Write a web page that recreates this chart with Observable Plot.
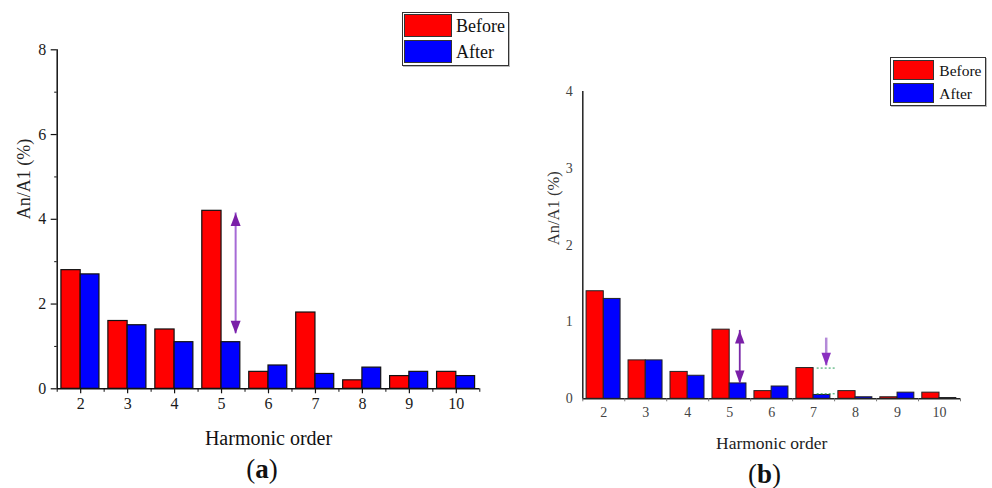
<!DOCTYPE html>
<html>
<head>
<meta charset="utf-8">
<script src="https://cdn.jsdelivr.net/npm/d3@7"></script>
<script src="https://cdn.jsdelivr.net/npm/@observablehq/plot@0.6"></script>
<style>
  html, body { margin: 0; padding: 0; background: #fff; }
  #wrap { position: relative; width: 992px; height: 488px; background: #fff; font-family: "Liberation Serif", serif; color: #111; overflow: hidden; }
  .abs { position: absolute; }
  .legend { position: absolute; box-sizing: border-box; border: 1.5px solid #333; background: #fff; box-shadow: 1px 1px 0 #bbb; }
  .sw { position: absolute; box-sizing: border-box; border: 1px solid #333; }
  .lt { position: absolute; white-space: nowrap; line-height: 1; transform: translateY(-50%); }
  .cap { position: absolute; white-space: nowrap; line-height: 1; transform: translate(-50%, -50%); }
</style>
</head>
<body>
<div id="wrap">
  <div id="pa" class="abs" style="left:0;top:0"></div>
  <div id="pb" class="abs" style="left:530px;top:0"></div>

  <div class="legend" style="left:401.7px;top:12px;width:107.6px;height:54px;"></div>
  <div class="sw" style="left:404px;top:14px;width:47.7px;height:23.3px;background:#ff0000;"></div>
  <div class="sw" style="left:404px;top:40px;width:47.7px;height:23.3px;background:#0000ff;"></div>
  <div class="lt" id="la1" style="left:456px;top:26px;font-size:18px;"></div>
  <div class="lt" id="la2" style="left:456px;top:52px;font-size:18px;"></div>

  <div class="legend" style="left:890.3px;top:57.3px;width:95.7px;height:48.7px;"></div>
  <div class="sw" style="left:892.7px;top:60px;width:41.6px;height:20px;background:#ff0000;"></div>
  <div class="sw" style="left:892.7px;top:83.3px;width:41.6px;height:20px;background:#0000ff;"></div>
  <div class="lt" id="lb1" style="left:939.3px;top:70.5px;font-size:15.5px;"></div>
  <div class="lt" id="lb2" style="left:939.3px;top:93.5px;font-size:15.5px;"></div>

  <div class="cap" style="left:262px;top:469px;font-size:27px;">(<b>a</b>)</div>
  <div class="cap" style="left:764.5px;top:474px;font-size:27px;">(<b>b</b>)</div>
</div>
<script>
// ---------- data ----------
const orders = [2, 3, 4, 5, 6, 7, 8, 9, 10];
const seriesNames = ["Before", "After"];
const beforeA = [2.8, 1.6, 1.4, 4.2, 0.4, 1.8, 0.2, 0.3, 0.4];
const afterA  = [2.7, 1.5, 1.1, 1.1, 0.55, 0.35, 0.5, 0.4, 0.3];
const beforeB = [1.4, 0.5, 0.35, 0.9, 0.1, 0.4, 0.1, 0.02, 0.08];
const afterB  = [1.3, 0.5, 0.3, 0.2, 0.16, 0.05, 0.02, 0.08, 0.01];
const yTicksA = [0, 2, 4, 6, 8];
const yMinorA = [1, 3, 5, 7];
const yTicksB = [0, 1, 2, 3, 4];
const xLabel = "Harmonic order";
const yLabel = "An/A1 (%)";
// annotations (data coordinates)
const arrowA = [{x: 5.3, top: 4.15, bottom: 1.3}];
const arrowB = [{x: 5.24, top: 0.89, bottom: 0.2}];
const downArrowB = [{x: 7.3, top: 0.79, tip: 0.43}];
const guideB = [{y: 0.40, x1: 7.085, x2: 7.54}, {y: 0.065, x1: 7.085, x2: 7.56}];

// ---------- legend text ----------
document.getElementById("la1").textContent = seriesNames[0];
document.getElementById("la2").textContent = seriesNames[1];
document.getElementById("lb1").textContent = seriesNames[0];
document.getElementById("lb2").textContent = seriesNames[1];

// ---------- helpers ----------
const boundaries = d3.range(orders[0] - 0.5, orders[orders.length - 1] + 1, 1);
const RED = "#ff0000", BLUE = "#0000ff";
const L0 = -0.41, MID = 0, R0 = 0.40;
const intFmt = d3.format("d");
function head(w, h, up) {
  return {draw(ctx) {
    const s = up ? 1 : -1;
    ctx.moveTo(0, 0);
    ctx.lineTo(w / 2, s * h);
    ctx.lineTo(-w / 2, s * h);
    ctx.closePath();
  }};
}
const rows = (b, a) => orders.map((h, i) => ({h, before: b[i], after: a[i]}));
const dataA = rows(beforeA, afterA);
const dataB = rows(beforeB, afterB);

// ---------- panel a ----------
const plotA = Plot.plot({
  width: 530, height: 488,
  marginLeft: 56.7, marginRight: 50.7, marginTop: 49.3, marginBottom: 99.7,
  style: {fontFamily: "Liberation Serif, serif", fontSize: "16px", color: "#1a1a1a", background: "transparent", overflow: "visible"},
  x: {type: "linear", domain: [1.5, 10.5]},
  y: {domain: [0, 8]},
  marks: [
    Plot.rectY(dataA, {x1: d => d.h + L0, x2: d => d.h + MID, y1: 0, y2: "before", fill: RED, stroke: "#111", strokeWidth: 1.2}),
    Plot.rectY(dataA, {x1: d => d.h + MID, x2: d => d.h + R0, y1: 0, y2: "after", fill: BLUE, stroke: "#111", strokeWidth: 1.2}),
    Plot.ruleX(arrowA, {x: "x", y1: "top", y2: "bottom", stroke: "#a66bd6", strokeWidth: 2}),
    Plot.dot(arrowA, {x: "x", y: "top", symbol: head(10, 13, true), r: 6, fill: "#7a1fa8", stroke: "none"}),
    Plot.dot(arrowA, {x: "x", y: "bottom", symbol: head(10, 13, false), r: 6, fill: "#7a1fa8", stroke: "none"}),
    Plot.ruleX([boundaries[0]], {stroke: "#111", strokeWidth: 1.5}),
    Plot.ruleY([0], {stroke: "#111", strokeWidth: 1.5}),
    Plot.axisY({ticks: yTicksA, tickSize: 6, tickPadding: 5, tickFormat: intFmt, label: null, fontSize: 16, stroke: "#111", strokeWidth: 1.2}),
    Plot.axisY({ticks: yMinorA, tickSize: 2.5, tickFormat: () => "", label: null, stroke: "#111"}),
    Plot.axisX({ticks: orders, tickSize: 5, tickPadding: 4, tickFormat: intFmt, label: null, fontSize: 16, stroke: "#111", strokeWidth: 1.2}),
    Plot.axisX({ticks: boundaries, tickSize: 3.5, tickFormat: () => "", label: null, stroke: "#111"}),
    Plot.text([yLabel], {text: d => d, frameAnchor: "left", dx: -33, rotate: -90, fontSize: 18, fill: "#222"}),
    Plot.text([xLabel], {text: d => d, frameAnchor: "bottom", dy: 56, fontSize: 20, fill: "#111"})
  ]
});
document.getElementById("pa").appendChild(plotA);

// ---------- panel b ----------
const plotB = Plot.plot({
  width: 462, height: 488,
  marginLeft: 52.3, marginRight: 32, marginTop: 91, marginBottom: 89.7,
  style: {fontFamily: "Liberation Serif, serif", fontSize: "14px", color: "#444", background: "transparent", overflow: "visible"},
  x: {type: "linear", domain: [1.5, 10.5]},
  y: {domain: [0, 4]},
  marks: [
    Plot.rectY(dataB, {x1: d => d.h + L0, x2: d => d.h + MID, y1: 0, y2: "before", fill: RED, stroke: "#222", strokeWidth: 1}),
    Plot.rectY(dataB, {x1: d => d.h + MID, x2: d => d.h + R0, y1: 0, y2: "after", fill: BLUE, stroke: "#222", strokeWidth: 1}),
    Plot.ruleY(guideB, {y: "y", x1: "x1", x2: "x2", stroke: "#2aa05a", strokeWidth: 1, strokeDasharray: "2,2"}),
    Plot.ruleX(arrowB, {x: "x", y1: "top", y2: "bottom", stroke: "#7a2aa8", strokeWidth: 1.8}),
    Plot.dot(arrowB, {x: "x", y: "top", symbol: head(9.5, 13, true), r: 6, fill: "#7a1fa8", stroke: "none"}),
    Plot.dot(arrowB, {x: "x", y: "bottom", symbol: head(9.5, 13, false), r: 6, fill: "#7a1fa8", stroke: "none"}),
    Plot.ruleX(downArrowB, {x: "x", y1: "top", y2: "tip", stroke: "#b48ad8", strokeWidth: 2.5}),
    Plot.dot(downArrowB, {x: "x", y: "tip", symbol: head(9.5, 13, false), r: 6, fill: "#8a2fc0", stroke: "none"}),
    Plot.ruleX([boundaries[0]], {stroke: "#222", strokeWidth: 1.5}),
    Plot.ruleY([0], {stroke: "#222", strokeWidth: 1.5}),
    Plot.axisY({ticks: yTicksB, tickSize: 0, tickPadding: 10, tickFormat: intFmt, label: null, fontSize: 14, fill: "#444"}),
    Plot.axisX({ticks: orders, tickSize: 0, tickPadding: 8, tickFormat: intFmt, label: null, fontSize: 14, fill: "#444"}),
    Plot.axisX({ticks: boundaries, tickSize: 3, tickFormat: () => "", label: null, stroke: "#777"}),
    Plot.text([yLabel], {text: d => d, frameAnchor: "left", dx: -29, rotate: -90, fontSize: 16.5, fill: "#333"}),
    Plot.text([xLabel], {text: d => d, frameAnchor: "bottom", dy: 50, fontSize: 17.5, fill: "#222"})
  ]
});
document.getElementById("pb").appendChild(plotB);
</script>
</body>
</html>
